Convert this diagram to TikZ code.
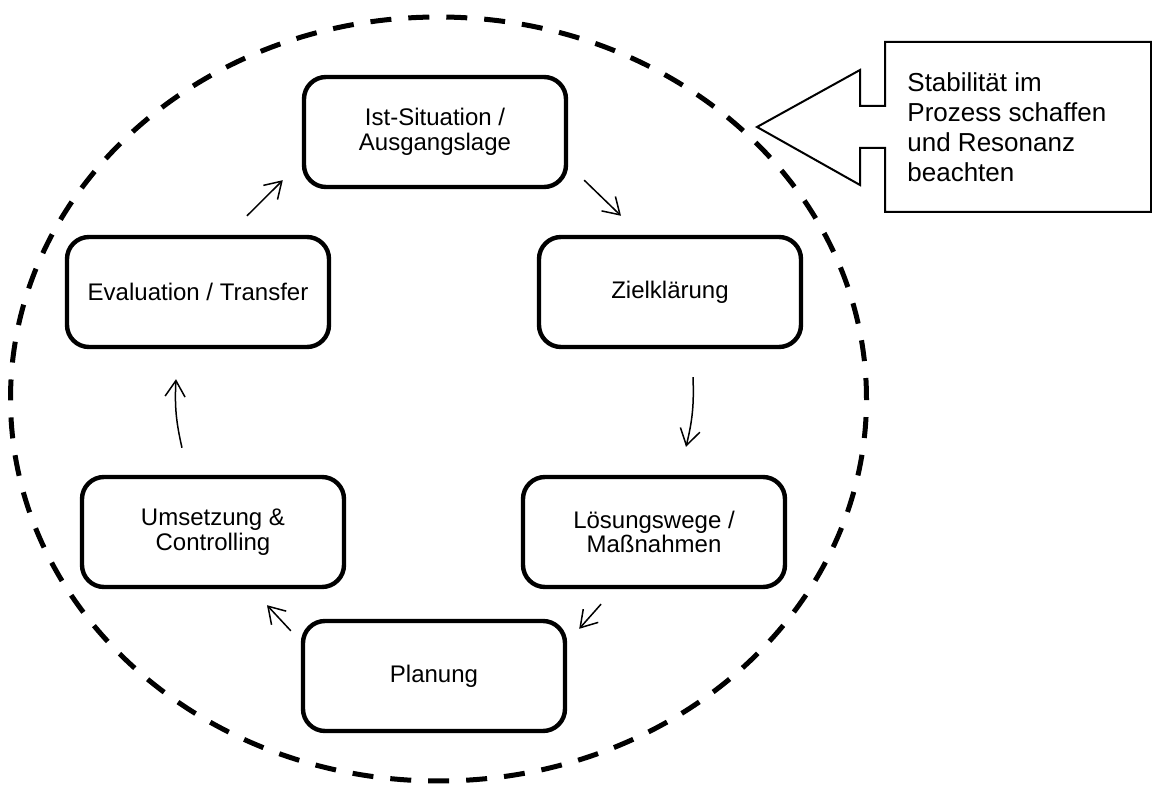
\documentclass[tikz,border=0pt]{standalone}
\usepackage{fontspec}
\setmainfont{Liberation Sans}
\usetikzlibrary{arrows.meta,calc}
\begin{document}
\begin{tikzpicture}[x=0.5pt,y=-0.5pt,
  stage/.style={draw, line width=2.2pt, rounded corners=11pt,
    minimum width=131pt, minimum height=55pt, inner sep=0pt,
    align=center, font=\fontsize{12}{12.3}\selectfont},
  flow/.style={-{Straight Barb[length=8pt,width=10pt]}, line width=0.75pt},
  ring/.style={line width=2.5pt, dash pattern=on 10.5pt off 8.5pt},
  callout/.style={line width=1pt, line join=miter},
  notetext/.style={inner sep=0pt, align=left, font=\fontsize{13}{15}\selectfont}]
\useasboundingbox (0,0) rectangle (1152,785);

% dashed boundary around the cycle
\draw[ring] (438.5,399) ellipse [x radius=214pt, y radius=191pt];

% process stages
\node[stage] (ist)  at (435,132) {Ist-Situation /\\Ausgangslage};
\node[stage] (ziel) at (670,292) {Zielklärung};
\node[stage] (los)  at (654,532) {Lösungswege /\\Maßnahmen};
\node[stage] (plan) at (434,676) {Planung};
\node[stage] (ums)  at (213,532) {Umsetzung \&\\Controlling};
\node[stage] (ev)   at (198,292) {Evaluation / Transfer};

% cycle arrows
\draw[flow] ($(ev.north)+(49,-19)$) -- ($(ist.south west)+(-19,-9)$);
\draw[flow] ($(ist.south east)+(16,-9)$) -- ($(ziel.north)+(-49,-19)$);
\draw[flow] ($(ziel.south)+(23,28)$) to[bend left=8] ($(los.north)+(32,-28)$);
\draw[flow] ($(los.south)+(-53,15)$) -- ($(plan.north east)+(12,10)$);
\draw[flow] ($(plan.north west)+(-10,12)$) -- ($(ums.south)+(54,16)$);
\draw[flow] ($(ums.north)+(-31,-27)$) to[bend left=8] ($(ev.south)+(-22,30)$);

% arrow-shaped note pointing at the boundary
\draw[callout] (885,42) -- (1151,42) -- (1151,212) -- (885,212) -- (885,148)
  -- (860,148) -- (860,185) -- (757,127) -- (860,70) -- (860,106)
  -- (885,106) -- cycle;
\node[notetext, anchor=north west] (note) at (907,72)
  {Stabilität im\\Prozess schaffen\\und Resonanz\\beachten};
\end{tikzpicture}
\end{document}
